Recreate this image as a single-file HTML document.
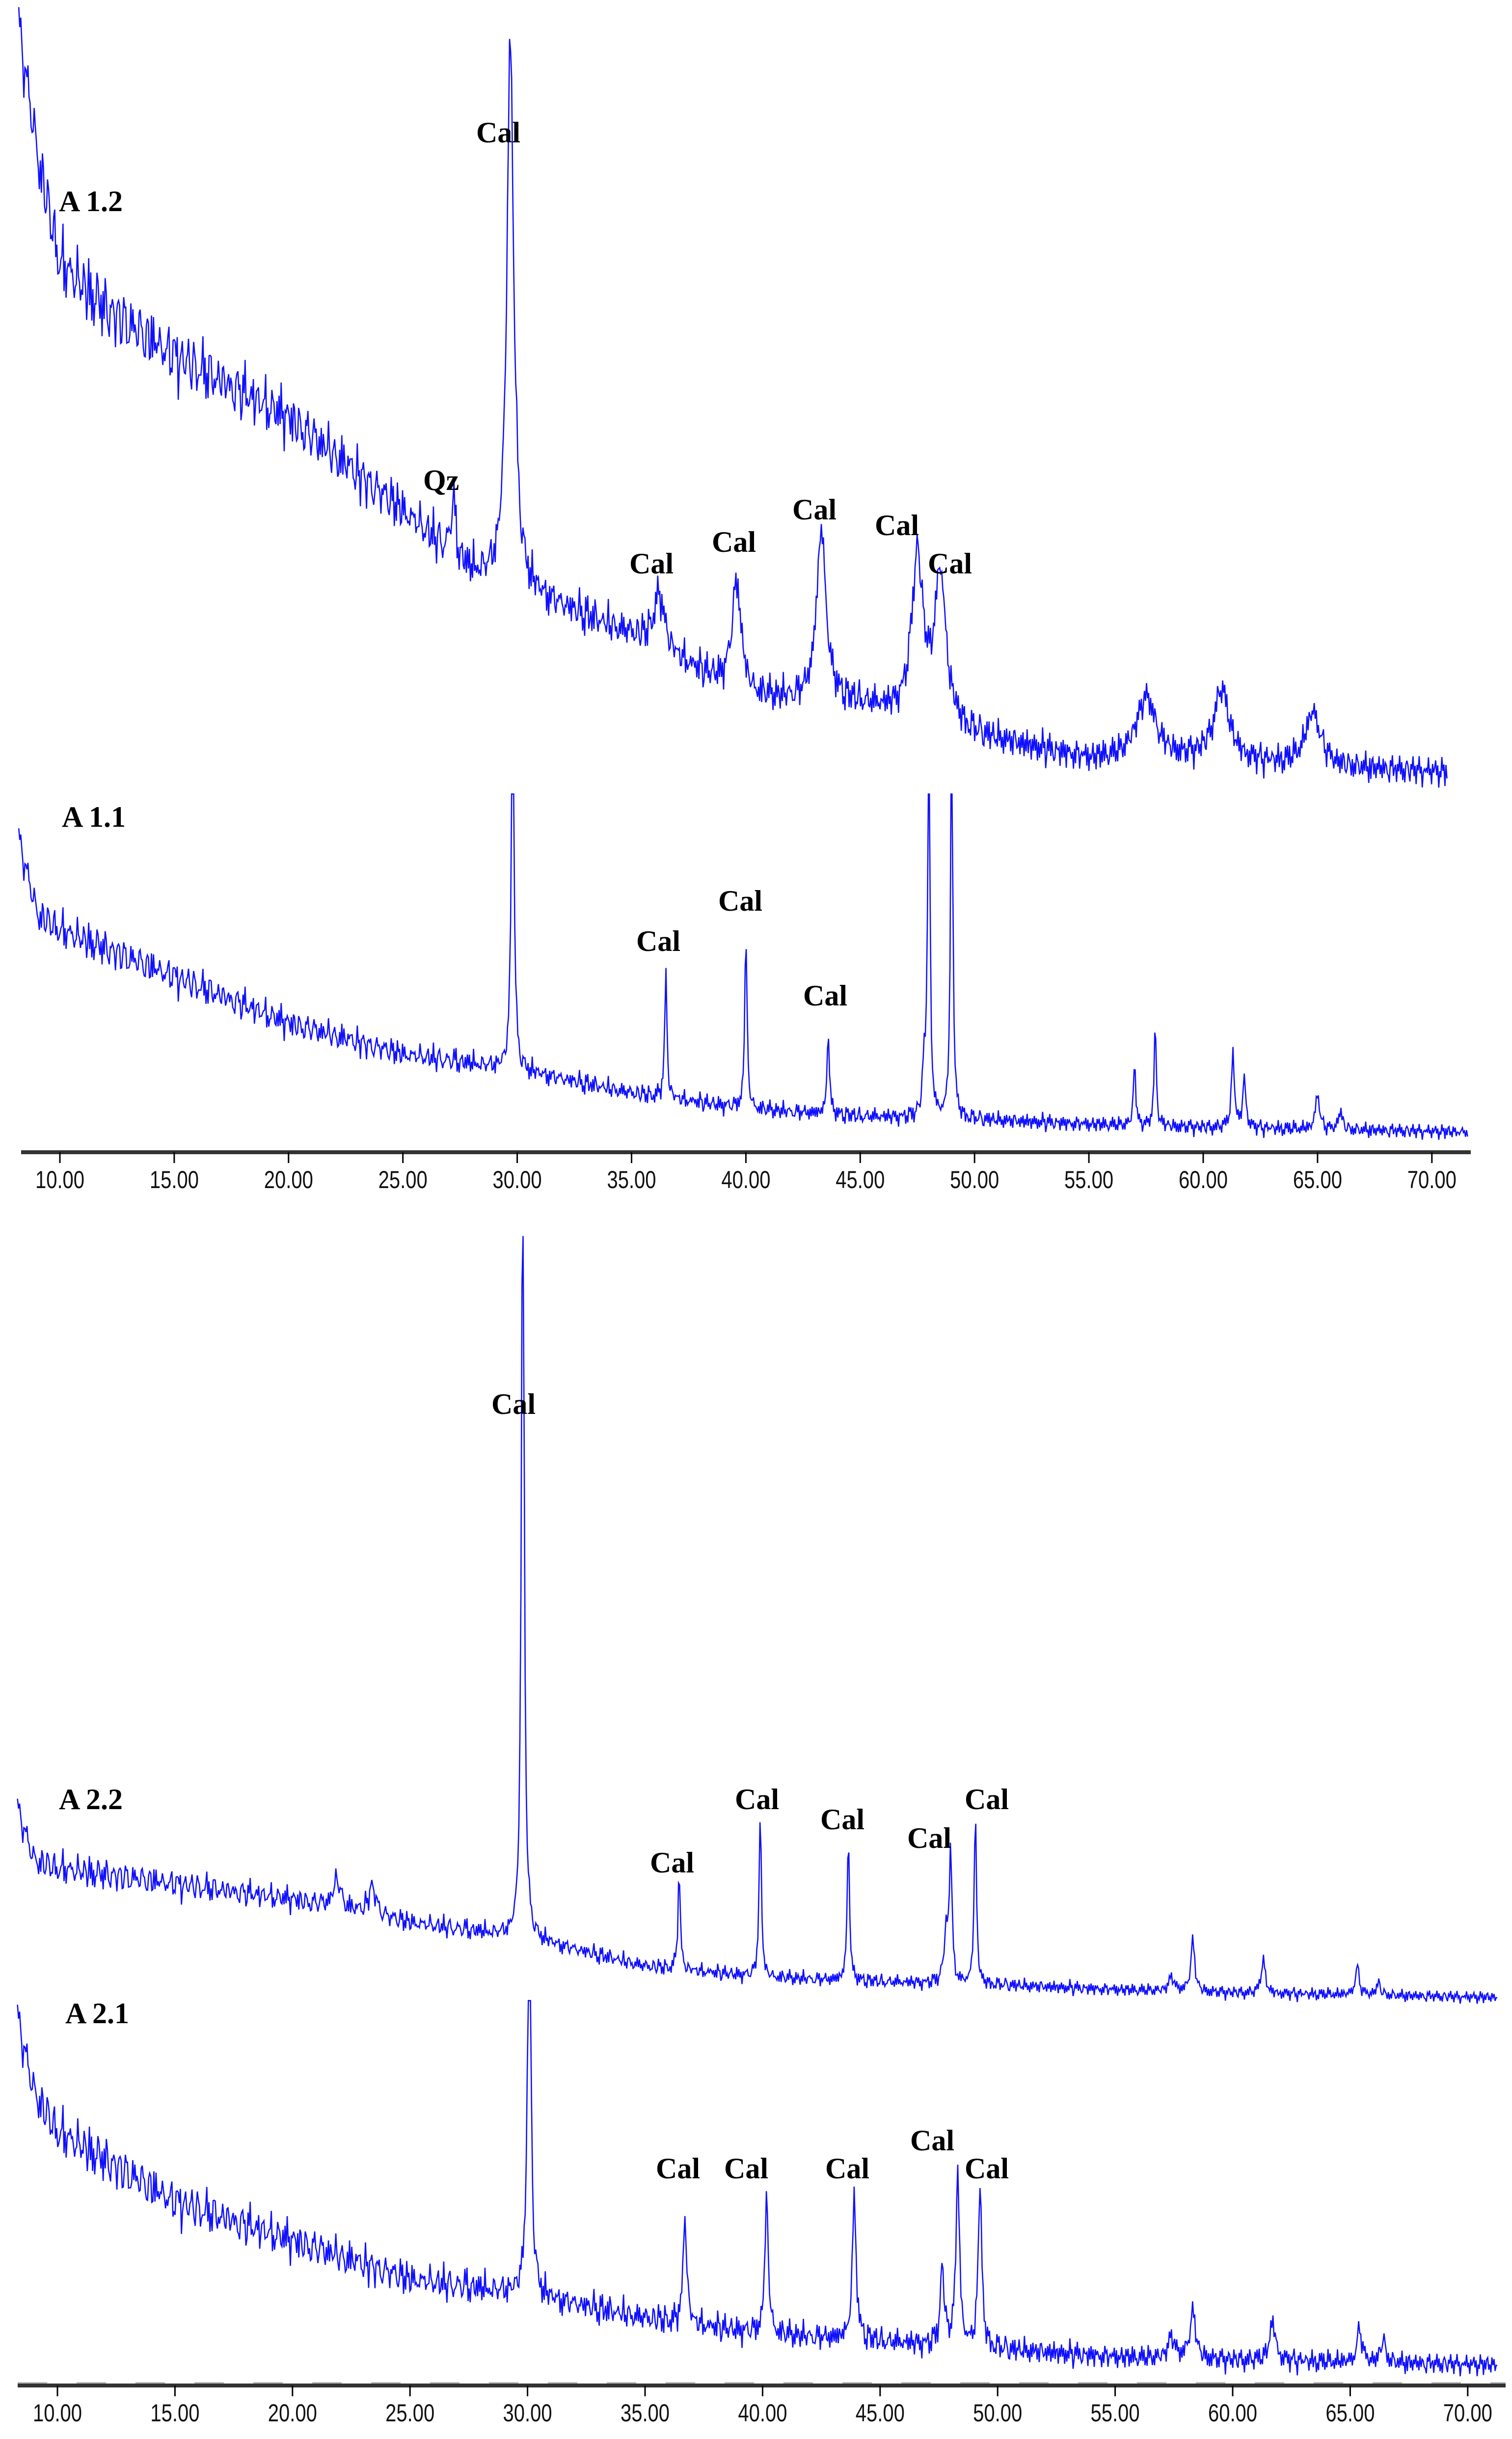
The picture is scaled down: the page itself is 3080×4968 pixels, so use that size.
<!DOCTYPE html>
<html><head><meta charset="utf-8"><style>
html,body{margin:0;padding:0;background:#fff}
svg{display:block}
.lbl{font-family:"Liberation Serif",serif;font-weight:bold;font-size:60px;fill:#000}
.tick{font-family:"Liberation Sans",sans-serif;font-size:50px;fill:#111}
</style></head><body>
<svg id="chart" width="3080" height="4968" viewBox="0 0 3080 4968" xmlns="http://www.w3.org/2000/svg">
<g id="traces"></g>
<g id="axes"></g>
<g id="labels">
<text class="lbl" x="120" y="430">A 1.2</text>
<text class="lbl" x="970" y="290">Cal</text>
<text class="lbl" x="862" y="998">Qz</text>
<text class="lbl" x="1282" y="1168">Cal</text>
<text class="lbl" x="1450" y="1124">Cal</text>
<text class="lbl" x="1614" y="1058">Cal</text>
<text class="lbl" x="1782" y="1090">Cal</text>
<text class="lbl" x="1890" y="1168">Cal</text>
<text class="lbl" x="126" y="1684">A 1.1</text>
<text class="lbl" x="1296" y="1937">Cal</text>
<text class="lbl" x="1463" y="1855">Cal</text>
<text class="lbl" x="1636" y="2048">Cal</text>
<text class="lbl" x="120" y="3685">A 2.2</text>
<text class="lbl" x="1001" y="2880">Cal</text>
<text class="lbl" x="1324" y="3814">Cal</text>
<text class="lbl" x="1497" y="3685">Cal</text>
<text class="lbl" x="1671" y="3726">Cal</text>
<text class="lbl" x="1848" y="3764">Cal</text>
<text class="lbl" x="1965" y="3685">Cal</text>
<text class="lbl" x="133" y="4121">A 2.1</text>
<text class="lbl" x="1336" y="4437">Cal</text>
<text class="lbl" x="1475" y="4437">Cal</text>
<text class="lbl" x="1681" y="4437">Cal</text>
<text class="lbl" x="1854" y="4380">Cal</text>
<text class="lbl" x="1965" y="4437">Cal</text>
</g>
</svg>
<script>
const S = 3.159;
const tickValues = [10,15,20,25,30,35,40,45,50,55,60,65,70];
const tickLabels = ["10.00","15.00","20.00","25.00","30.00","35.00","40.00","45.00","50.00","55.00","60.00","65.00","70.00"];
const jitterA = [0.3,-0.8,0.9,-0.2,0.6,-1,0.1,0.8,-0.5,0.4,-0.9,0.7,-0.1,0.5,-0.7,1,-0.4,0.2,-0.6,0.9,-0.3,0.6,-0.9,0.1,0.7,-0.5,0.3,-0.8,0.95,-0.2,0.4,-0.65,0.85,-1,0.15,0.55,-0.35,0.75,-0.75,0.25,-0.45,0.65,-0.15,0.9,-0.85,0.35,-0.55,0.05,0.8,-0.25,0.45,-0.95,0.6,-0.05,0.3,-0.7,0.2,0.95,-0.4,0.5,-0.6];
const jitterB = [-0.4,0.6,-0.2,0.9,-0.7,0.1,0.5,-0.9,0.3,-0.1,0.8,-0.6,0.2,-0.8,0.7,-0.3,0.4,-0.5,1,-0.95,0.15,0.35,-0.25,0.65,-0.45,0.05,-0.75,0.85,-0.15,0.55,-0.35,0.25,-0.85,0.75,-0.05,0.45,-0.65];
const jitterC = [0.8,0.6,0.2,-0.3,-0.7,-0.9,-0.5,0.1,0.6,0.9,0.4,-0.2,-0.8,-0.6,0.0,0.5,1.0,0.7,-0.1,-0.6,-1.0,-0.4,0.3,0.8,0.5,-0.3,-0.7,-0.2,0.4,0.9,0.3,-0.5,-0.9,-0.1];

// A 1.2
const a12BaseT = [8.2,9,10,12,15,20,25,28,30,35,40,45,50,55,60,65,70.7];
const a12Base = [725,640,570,540,510,470,410,370,360,330,290,285,265,250,250,245,242];
const a12PeakPos = [27.2,29.7,36.2,39.6,43.3,47.5,48.5,57.5,60.8,64.8];
const a12PeakH = [35,353,35,70,110,103,95,40,45,35];
const a12PeakW = [0.12,0.18,0.3,0.25,0.25,0.3,0.3,0.5,0.4,0.4];
const a12NoiseT = [8,20,35,71];
const a12NoiseA = [28,22,14,10];
// A 1.1
const a11BaseT = [8.2,9,10,15,20,25,30,35,40,45,50,55,60,71.6];
const a11Base = [200,150,140,110,80,60,50,35,25,20,18,15,13,10];
const a11PeakPos = [29.8,36.5,40.0,43.6,47.8,48.0,49.0,57.0,57.9,61.3,61.8,65.0,66.0];
const a11PeakH = [260,80,113,55,30,260,260,40,63,47,32,24,12];
const a11PeakW = [0.07,0.06,0.06,0.06,0.08,0.06,0.06,0.06,0.06,0.08,0.08,0.1,0.1];
const a11NoiseT = [8,20,35,72];
const a11NoiseA = [16,12,7,5];
// A 2.2
const a22BaseT = [8.3,9,10,15,20,25,30,35,40,45,50,55,60,71.3];
const a22Base = [375,340,335,325,315,300,290,272,265,262,260,257,255,252];
const a22PeakPos = [21.9,23.4,29.8,36.45,39.9,43.65,47.8,48.0,49.05,57.4,58.3,61.3,65.3,66.2];
const a22PeakH = [18,18,520,62,105,93,30,85,110,10,33,22,18,8];
const a22PeakW = [0.2,0.2,0.07,0.06,0.06,0.06,0.1,0.07,0.06,0.12,0.1,0.1,0.1,0.1];
const a22NoiseT = [8,20,35,72];
const a22NoiseA = [14,10,6,4];
// A 2.1
const a21BaseT = [8.3,9,10,15,20,25,30,35,40,45,50,55,60,71.3];
const a21Base = [240,190,165,120,95,70,60,45,35,30,25,20,18,15];
const a21PeakPos = [30.07,36.7,40.17,43.9,47.65,48.3,49.25,57.4,58.3,61.7,65.4,66.4];
const a21PeakH = [270,70,87,90,50,115,105,15,30,25,22,15];
const a21PeakW = [0.09,0.09,0.09,0.1,0.1,0.09,0.09,0.15,0.15,0.15,0.12,0.12];
const a21NoiseT = [8,20,35,72];
const a21NoiseA = [20,16,11,7];

const NS = "http://www.w3.org/2000/svg";
function xTop(t){ return 122 + (t-10)*46.58; }
function xBot(t){ return 117 + (t-10)*47.88; }
function yTop(c){ return S*(740 - c); }
function yBot(c){ return S*(1540 - c); }
function interp(ts, vs, t){
  if(t<=ts[0]) return vs[0];
  for(let i=1;i<ts.length;i++){ if(t<=ts[i]){ const f=(t-ts[i-1])/(ts[i]-ts[i-1]); return vs[i-1]+f*(vs[i]-vs[i-1]); } }
  return vs[vs.length-1];
}
function drawTrace(name, bT, bV, pP, pH, pW, nT, nA, xf, yf, clipC, tEnd){
  let d = "";
  let i = 0;
  for(let t=bT[0]; t<=tEnd; t+=0.045, i++){
    let c = interp(bT,bV,t);
    for(let k=0;k<pP.length;k++){ const u=(t-pP[k])/pW[k]; c += pH[k]/(1+u*u); }
    c += interp(nT,nA,t)*(jitterA[i%jitterA.length]*0.5 + jitterB[i%jitterB.length]*0.35 + jitterC[i%jitterC.length]*0.45);
    if(clipC!==null && c>clipC) c = clipC;
    d += (i?"L":"M") + xf(t).toFixed(1) + " " + yf(c).toFixed(1);
  }
  const p = document.createElementNS(NS,"path");
  p.setAttribute("d", d);
  p.setAttribute("fill","none");
  p.setAttribute("stroke","#1010ff");
  p.setAttribute("stroke-width","2.6");
  
  
  document.getElementById("traces").appendChild(p);
}
drawTrace("trace-a12", a12BaseT, a12Base, a12PeakPos, a12PeakH, a12PeakW, a12NoiseT, a12NoiseA, xTop, yTop, null, 70.7);
drawTrace("trace-a11", a11BaseT, a11Base, a11PeakPos, a11PeakH, a11PeakW, a11NoiseT, a11NoiseA, xTop, yTop, 228, 71.6);
drawTrace("trace-a22", a22BaseT, a22Base, a22PeakPos, a22PeakH, a22PeakW, a22NoiseT, a22NoiseA, xBot, yBot, 743, 71.3);
drawTrace("trace-a21", a21BaseT, a21Base, a21PeakPos, a21PeakH, a21PeakW, a21NoiseT, a21NoiseA, xBot, yBot, 250, 71.3);

function drawAxis(name, y, x0, x1, xf, dashed){
  const g = document.getElementById("axes");
  if(dashed){
    const dl = document.createElementNS(NS,"line");
    dl.setAttribute("x1",x0); dl.setAttribute("x2",x1); dl.setAttribute("y1",y-5); dl.setAttribute("y2",y-5);
    dl.setAttribute("stroke","#bbb"); dl.setAttribute("stroke-width","4"); dl.setAttribute("stroke-dasharray","60 60");
    
    
    g.appendChild(dl);
  }
  const l = document.createElementNS(NS,"line");
  l.setAttribute("x1",x0); l.setAttribute("x2",x1); l.setAttribute("y1",y); l.setAttribute("y2",y);
  l.setAttribute("stroke","#333"); l.setAttribute("stroke-width","8");
  
  
  g.appendChild(l);
  for(let k=0;k<tickValues.length;k++){
    const x = xf(tickValues[k]);
    const tk = document.createElementNS(NS,"line");
    tk.setAttribute("x1",x); tk.setAttribute("x2",x); tk.setAttribute("y1",y); tk.setAttribute("y2",y+22);
    tk.setAttribute("stroke","#000"); tk.setAttribute("stroke-width","3");
    
    
    g.appendChild(tk);
    const tx = document.createElementNS(NS,"text");
    tx.setAttribute("class","tick");
    tx.setAttribute("text-anchor","middle");
    tx.setAttribute("transform","translate("+x+","+(y+73)+") scale(0.8,1)");
    tx.textContent = tickLabels[k];
    
    
    g.appendChild(tx);
  }
}
drawAxis("x-axis-top", 2347, 43, 2996, xTop, false);
drawAxis("x-axis-bottom", 4859, 36, 3067, xBot, true);
</script>
</body></html>
